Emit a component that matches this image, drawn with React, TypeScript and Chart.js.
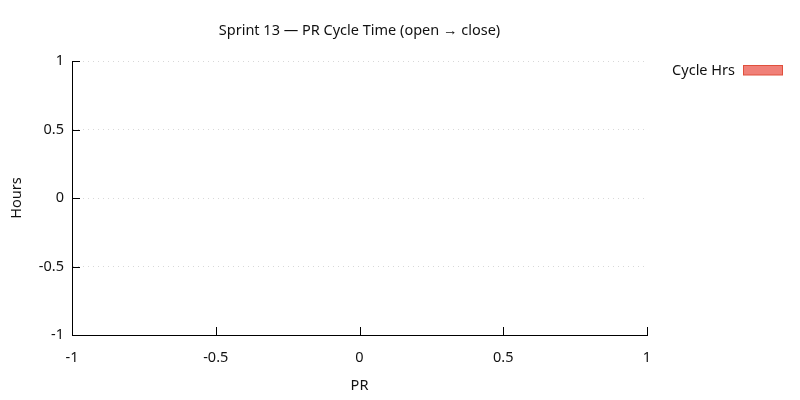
import React, { useEffect, useRef } from "react";
import { Chart, registerables } from "chart.js";

Chart.register(...registerables);

const TITLE = "Sprint 13 — PR Cycle Time (open → close)";
const SERIES_LABEL = "Cycle Hrs";
const PRS: number[] = [];
const CYCLE_HRS: number[] = [];
const X_TITLE = "PR";
const Y_TITLE = "Hours";
const AXIS_MIN = -1;
const AXIS_MAX = 1;
const AXIS_STEP = 0.5;

const FONT = "'Noto Sans', 'Open Sans', sans-serif";
const FS = 14.5;

const fmt = (v: any) => String(Number(v));

const decorPlugin = {
  id: "decor",
  afterDraw(chart: any) {
    const ctx = chart.ctx as CanvasRenderingContext2D;
    const area = chart.chartArea;
    const xs = chart.scales.x;
    const ys = chart.scales.y;
    ctx.save();
    ctx.strokeStyle = "#000";
    ctx.lineWidth = 1;
    ctx.setLineDash([]);
    ctx.beginPath();
    xs.ticks.forEach((t: any) => {
      if (t.value === AXIS_MIN) return;
      const px = Math.round(xs.getPixelForValue(t.value)) + 0.5;
      ctx.moveTo(px, area.bottom);
      ctx.lineTo(px, area.bottom - 8);
    });
    ys.ticks.forEach((t: any) => {
      if (t.value === AXIS_MIN) return;
      const py = Math.round(ys.getPixelForValue(t.value)) + 0.5;
      ctx.moveTo(area.left, py);
      ctx.lineTo(area.left + 8, py);
    });
    ctx.stroke();
    ctx.fillStyle = "#111";
    ctx.font = `${FS}px ${FONT}`;
    ctx.textAlign = "center";
    ctx.textBaseline = "middle";
    ctx.fillText(chart.options.plugins.decor.title, (area.left + area.right) / 2, 31);
    const ds = chart.data.datasets[0];
    ctx.textAlign = "right";
    ctx.fillText(ds.label, 735, 71);
    ctx.fillStyle = ds.backgroundColor;
    ctx.fillRect(743, 65, 40, 10);
    ctx.strokeStyle = ds.borderColor;
    ctx.strokeRect(743.5, 65.5, 39, 9.5);
    ctx.restore();
  },
};

export default function App() {
  const ref = useRef<HTMLCanvasElement | null>(null);
  useEffect(() => {
    document.body.style.margin = "0";
    if (!ref.current) return;
    const chart = new Chart(ref.current, {
      type: "bar",
      data: {
        labels: PRS,
        datasets: [
          {
            label: SERIES_LABEL,
            data: CYCLE_HRS,
            backgroundColor: "#f08078",
            borderColor: "#e0503c",
            borderWidth: 1,
          },
        ],
      },
      options: {
        animation: false,
        responsive: false,
        devicePixelRatio: 1,
        layout: { padding: { top: 61, right: 153, left: 0, bottom: 0 } },
        plugins: {
          legend: { display: false },
          title: { display: false },
          tooltip: { enabled: false },
          decor: { title: TITLE },
        } as any,
        scales: {
          x: {
            type: "linear",
            min: AXIS_MIN,
            max: AXIS_MAX,
            offset: false,
            ticks: {
              stepSize: AXIS_STEP,
              color: "#111",
              font: { family: FONT, size: FS },
              padding: 14,
              maxRotation: 0,
              callback: fmt,
            },
            grid: { display: false, drawTicks: false },
            border: { display: true, color: "#000", width: 1 },
            title: {
              display: true,
              text: X_TITLE,
              color: "#111",
              font: { family: FONT, size: FS },
              padding: { top: 0, bottom: 5 },
            },
            afterFit(scale: any) {
              scale.height = 65;
            },
          },
          y: {
            type: "linear",
            min: AXIS_MIN,
            max: AXIS_MAX,
            ticks: {
              stepSize: AXIS_STEP,
              color: "#111",
              font: { family: FONT, size: FS },
              padding: 8,
              callback: fmt,
            },
            grid: {
              display: true,
              drawTicks: false,
              color: "#d8d8d8",
              lineWidth: 1,
            },
            border: { display: true, color: "#000", width: 1, dash: [1, 4] } as any,
            title: {
              display: true,
              text: Y_TITLE,
              color: "#111",
              font: { family: FONT, size: FS },
              padding: { top: 8, bottom: 0 },
            },
            afterFit(scale: any) {
              scale.width = 72;
            },
          },
        },
      },
      plugins: [decorPlugin],
    } as any);
    return () => chart.destroy();
  }, []);
  return (
    <div style={{ width: 800, height: 400, position: "relative" }}>
      <canvas ref={ref} width={800} height={400} style={{ width: 800, height: 400 }} />
    </div>
  );
}
